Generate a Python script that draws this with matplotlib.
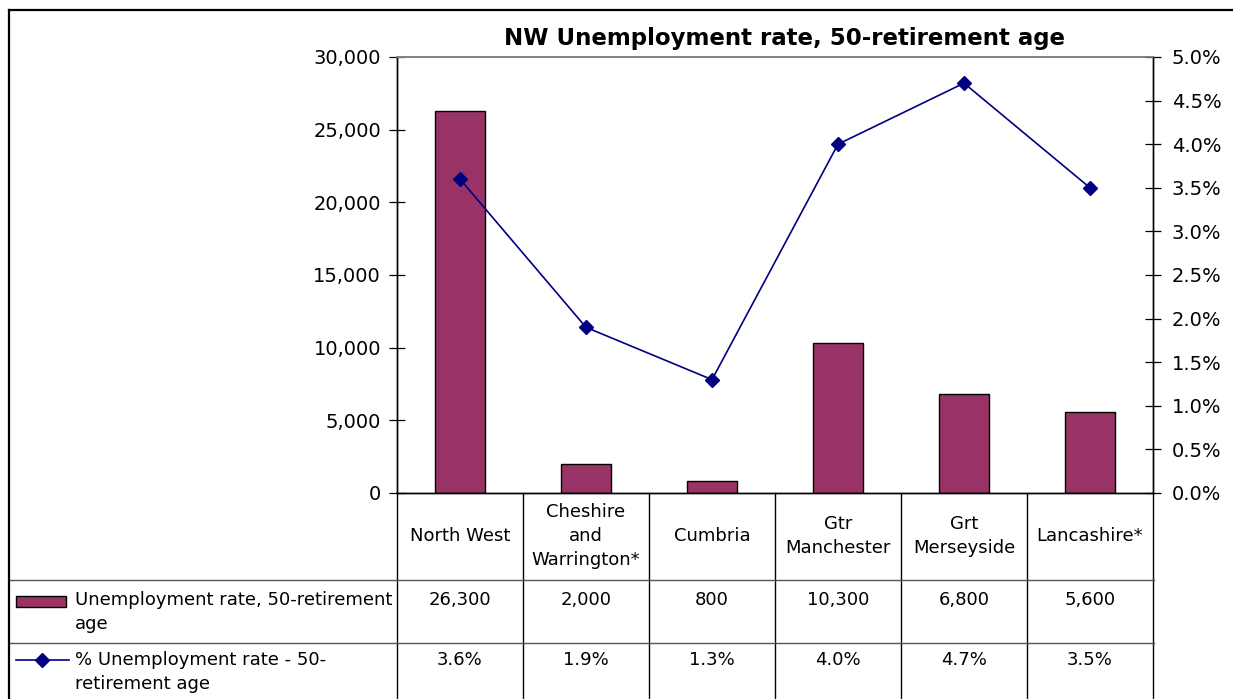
import matplotlib.pyplot as plt
import matplotlib.transforms as mtransforms
from matplotlib.lines import Line2D
from matplotlib.patches import Rectangle
from matplotlib.ticker import FuncFormatter

# data
categories = ['North West', 'Cheshire\nand\nWarrington*', 'Cumbria',
              'Gtr\nManchester', 'Grt\nMerseyside', 'Lancashire*']
counts = [26300, 2000, 800, 10300, 6800, 5600]
rates = [0.036, 0.019, 0.013, 0.040, 0.047, 0.035]
bar_label = 'Unemployment rate, 50-retirement\nage'
line_label = '% Unemployment rate - 50-\nretirement age'
title = 'NW Unemployment rate, 50-retirement age'

bar_color = '#993366'
line_color = '#000080'

W, H = 1233, 699
plt.rcParams['font.family'] = ['DejaVu Sans']


def fx(x):
    return x / W


def fy(y):
    return 1 - y / H


fig = plt.figure(figsize=(W / 100, H / 100), dpi=100)
ax = fig.add_axes([fx(397), fy(493), (1153 - 397) / W, (493 - 57) / H])
ax2 = ax.twinx()

x = list(range(len(categories)))
ax.bar(x, counts, width=0.4, color=bar_color, edgecolor='black', linewidth=1.0, zorder=2)
ax2.plot(x, rates, color=line_color, linewidth=1.2, marker='D', markersize=7,
         markerfacecolor=line_color, markeredgecolor=line_color, zorder=3)

ax.set_xlim(-0.5, len(categories) - 0.5)
ax.set_ylim(0, 30000)
ax.set_yticks(range(0, 30001, 5000))
ax.yaxis.set_major_formatter(FuncFormatter(lambda v, p: f'{v:,.0f}'))
ax2.set_ylim(0, 0.05)
ax2.set_yticks([i * 0.005 for i in range(11)])
ax2.yaxis.set_major_formatter(FuncFormatter(lambda v, p: f'{v * 100:.1f}%'))
ax.set_xticks([])

ax.tick_params(axis='y', direction='inout', length=11, width=0.9, labelsize=14, pad=6)
ax2.tick_params(axis='y', direction='inout', length=11, width=0.9, labelsize=14, pad=8)

for a in (ax, ax2):
    a.spines['top'].set_color('#808080')
    a.spines['top'].set_linewidth(1.2)
    for s in ('left', 'right', 'bottom'):
        a.spines[s].set_color('black')
        a.spines[s].set_linewidth(1.0)

fig.text(fx(785), fy(38), title, ha='center', va='center', fontsize=16.5, fontweight='bold')

# data table below the plot
trans = mtransforms.blended_transform_factory(ax.transData, fig.transFigure)
for i in range(len(categories) + 1):
    fig.add_artist(Line2D([i - 0.5, i - 0.5], [fy(493), -0.02], transform=trans,
                          color='black', linewidth=1.0))
for yy in (580, 643):
    fig.add_artist(Line2D([fx(10), fx(1154)], [fy(yy), fy(yy)], transform=fig.transFigure,
                          color='#555555', linewidth=1.0))

for i, (c, n, r) in enumerate(zip(categories, counts, rates)):
    fig.text(i, fy(536), c, transform=trans, ha='center', va='center',
             fontsize=13, linespacing=1.45)
    fig.text(i, fy(600), f'{n:,}', transform=trans, ha='center', va='center', fontsize=13)
    fig.text(i, fy(660), f'{r * 100:.1f}%', transform=trans, ha='center', va='center', fontsize=13)

# legend keys in the table
fig.add_artist(Rectangle((fx(16), fy(607)), fx(50), 11 / H, transform=fig.transFigure,
                         facecolor=bar_color, edgecolor='black', linewidth=1.0))
fig.add_artist(Line2D([fx(16), fx(69)], [fy(660), fy(660)], transform=fig.transFigure,
                      color=line_color, linewidth=1.2))
fig.add_artist(Line2D([fx(42)], [fy(660)], transform=fig.transFigure, marker='D',
                      markersize=7, color=line_color))
fig.text(fx(75), fy(612), bar_label, ha='left', va='center', fontsize=13, linespacing=1.45)
fig.text(fx(75), fy(672), line_label, ha='left', va='center', fontsize=13, linespacing=1.45)

# outer chart border
fig.add_artist(Line2D([fx(9), fx(9)], [fy(10), -0.02], transform=fig.transFigure,
                      color='black', linewidth=1.6))
fig.add_artist(Line2D([fx(9), 1.02], [fy(10), fy(10)], transform=fig.transFigure,
                      color='black', linewidth=1.6))

fig.savefig('out.png', dpi=100)
